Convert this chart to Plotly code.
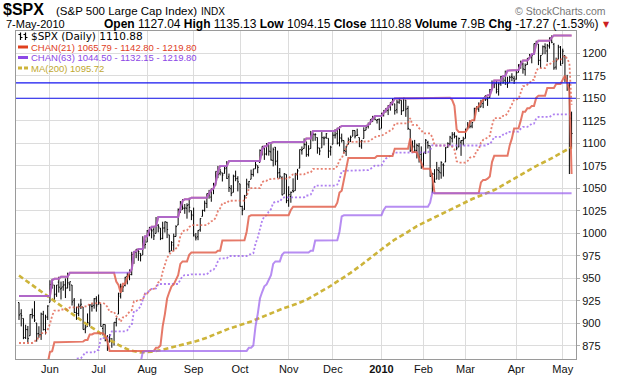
import pandas as pd
import plotly.graph_objects as go

# ---------------- data ----------------
holidays = ["2009-05-25", "2009-07-03", "2009-09-07", "2009-11-26", "2009-12-25",
            "2010-01-01", "2010-01-18", "2010-02-15", "2010-04-02"]
dates = [d for d in pd.bdate_range("2009-05-11", "2010-05-07")
         if d.strftime("%Y-%m-%d") not in holidays]

opens = [
    923.0, 910.5, 905.4, 884.2, 892.8, 886.1, 909.7, 908.6, 900.4, 888.7, 887.0, 910.0, 893.0, 907.0,
    923.3, 942.9, 942.5, 932.5, 945.7, 938.1, 940.4, 942.7, 939.0, 943.4, 942.5, 925.6, 911.9, 910.9, 920.0, 918.1, 893.5, 896.3, 899.5, 918.8, 919.9, 927.2,
    920.8, 921.2, 894.3, 898.6, 881.9, 881.3, 880.0, 879.6, 900.8, 910.2, 930.2, 940.6, 942.1, 952.0, 953.4, 954.1, 972.2, 978.6, 981.5, 977.7, 976.0, 986.8,
    990.2, 1001.4, 1005.4, 1004.1, 999.8, 1008.9, 1005.8, 994.0, 1005.9, 1012.2, 998.2, 980.6, 986.9, 996.4, 1009.1, 1026.6, 1026.6, 1027.4, 1027.8, 1031.6, 1025.2,
    1019.5, 996.1, 996.1, 1003.8, 1018.7, 1025.4, 1033.0, 1043.9, 1040.2, 1049.0, 1054.0, 1067.9, 1066.6, 1067.1, 1066.4, 1072.7, 1062.6, 1049.5, 1045.4, 1063.7, 1061.0,
    1054.9, 1029.7, 1026.9, 1042.0, 1053.7, 1060.0, 1065.3, 1071.6, 1075.0, 1078.7, 1090.4, 1094.7, 1088.2, 1098.6, 1090.4, 1081.0, 1095.6, 1080.4, 1067.5, 1061.5, 1043.7, 1065.4,
    1036.2, 1040.9, 1047.3, 1047.3, 1065.0, 1072.3, 1091.9, 1094.1, 1098.3, 1087.6, 1094.1, 1109.2, 1109.4, 1106.4, 1094.7, 1094.9, 1105.8, 1106.5, 1105.5, 1091.1,
    1098.9, 1109.0, 1110.6, 1100.4, 1105.5, 1103.0, 1091.1, 1098.7, 1104.0, 1107.8, 1114.1, 1108.6, 1106.4, 1097.9, 1105.3, 1114.5, 1118.8, 1121.1, 1127.5, 1128.6, 1125.5, 1126.6,
    1116.6, 1132.7, 1135.7, 1136.3, 1140.5, 1146.0, 1143.8, 1137.3, 1145.7, 1147.7, 1136.0, 1148.0, 1138.7, 1115.5, 1092.4, 1095.8, 1091.9, 1096.9, 1087.6,
    1073.9, 1090.1, 1100.7, 1097.3, 1064.1, 1065.5, 1060.1, 1069.7, 1067.1, 1076.0, 1079.1, 1096.1, 1099.0, 1105.5, 1110.0, 1107.5, 1095.9, 1101.2, 1103.1,
    1105.4, 1117.0, 1119.4, 1119.1, 1125.1, 1138.4, 1137.6, 1140.2, 1144.0, 1151.7, 1148.5, 1150.8, 1159.9, 1166.1, 1166.7, 1157.3, 1166.5, 1172.7, 1170.0, 1167.6, 1167.7, 1173.8, 1171.8,
    1171.2, 1178.7, 1186.0, 1188.2, 1181.8, 1187.5, 1194.9, 1195.9, 1198.7, 1210.8, 1210.2, 1192.1, 1199.0, 1207.2, 1202.5, 1207.9, 1217.1, 1209.9, 1184.6, 1193.3, 1206.8,
    1188.6, 1197.5, 1169.2, 1164.4, 1127.04,
]
highs = [
    923.0, 915.6, 905.4, 898.4, 897.0, 910.0, 916.4, 924.6, 900.4, 896.7, 911.8, 913.8, 909.5, 920.0,
    947.8, 949.4, 942.5, 942.5, 951.7, 946.3, 946.9, 949.8, 956.2, 946.3, 942.5, 928.0, 918.4, 921.9, 927.1, 918.1, 898.7, 910.9, 921.4, 922.0, 928.0, 930.0,
    931.9, 921.2, 898.7, 898.6, 886.8, 887.9, 883.6, 901.1, 905.8, 934.0, 944.0, 941.9, 951.6, 956.5, 959.8, 979.4, 979.8, 982.5, 982.4, 977.8, 996.7, 993.2,
    1003.6, 1007.1, 1006.6, 1008.0, 1018.0, 1010.1, 1005.8, 1012.8, 1013.1, 1012.6, 998.2, 991.2, 999.6, 1008.9, 1027.6, 1035.8, 1037.8, 1032.5, 1033.3, 1039.5, 1025.2,
    1028.5, 1000.3, 1003.4, 1016.5, 1026.1, 1036.3, 1044.1, 1048.2, 1049.7, 1056.0, 1068.8, 1074.8, 1071.5, 1067.3, 1073.8, 1080.2, 1066.3, 1053.5, 1065.1, 1069.6, 1063.4,
    1054.9, 1030.6, 1042.6, 1060.6, 1058.0, 1070.7, 1071.5, 1079.5, 1075.3, 1093.2, 1096.6, 1094.7, 1100.2, 1098.6, 1101.4, 1095.2, 1095.8, 1091.8, 1072.5, 1063.3, 1066.8, 1065.4,
    1052.2, 1046.4, 1061.0, 1066.7, 1071.5, 1093.2, 1096.4, 1105.4, 1102.0, 1097.8, 1113.7, 1110.5, 1111.1, 1106.4, 1094.7, 1112.4, 1107.6, 1111.2, 1105.5, 1097.2,
    1112.3, 1115.6, 1117.3, 1119.1, 1110.7, 1103.0, 1097.0, 1106.3, 1108.5, 1114.8, 1114.1, 1116.2, 1106.4, 1103.7, 1117.7, 1120.3, 1123.0, 1126.5, 1130.4, 1130.4, 1126.4, 1127.6,
    1133.9, 1136.6, 1139.2, 1142.5, 1145.4, 1149.7, 1143.8, 1148.4, 1150.4, 1147.8, 1150.5, 1148.0, 1141.6, 1115.5, 1103.0, 1103.7, 1099.5, 1100.2, 1096.5,
    1089.4, 1104.7, 1102.7, 1097.3, 1067.1, 1071.2, 1079.3, 1073.7, 1080.0, 1077.8, 1095.7, 1101.0, 1108.2, 1112.4, 1112.3, 1108.6, 1106.4, 1103.5, 1107.2,
    1116.1, 1123.5, 1125.6, 1123.7, 1139.4, 1141.1, 1145.4, 1148.3, 1150.2, 1153.4, 1151.0, 1160.3, 1169.8, 1167.8, 1169.2, 1167.8, 1174.7, 1173.0, 1180.7, 1173.9, 1174.9, 1177.8, 1174.6,
    1181.4, 1187.7, 1191.8, 1189.6, 1188.6, 1194.7, 1199.2, 1199.0, 1210.7, 1213.9, 1210.2, 1197.9, 1208.6, 1211.0, 1210.3, 1217.3, 1219.80, 1211.4, 1195.1, 1209.4, 1208.0,
    1205.1, 1197.5, 1176.0, 1167.6, 1135.13,
]
lows = [
    903.7, 896.5, 882.3, 882.5, 878.9, 886.1, 905.2, 901.4, 879.6, 883.8, 881.5, 891.9, 887.6, 903.6,
    923.3, 938.5, 923.9, 929.3, 934.1, 926.4, 936.2, 928.0, 939.0, 935.7, 919.7, 911.6, 903.8, 907.9, 915.8, 893.0, 888.9, 896.3, 896.3, 913.0, 916.2, 912.9,
    920.8, 896.4, 886.4, 879.9, 869.3, 878.5, 872.8, 875.3, 896.5, 910.2, 927.5, 934.7, 941.0, 943.2, 947.8, 953.3, 966.0, 972.3, 969.4, 968.7, 976.0, 982.9,
    990.2, 996.7, 994.3, 992.5, 999.8, 1001.0, 992.4, 993.4, 1000.8, 994.6, 978.5, 980.6, 980.6, 996.4, 1009.1, 1022.5, 1026.2, 1021.6, 1016.2, 1023.1, 1014.6,
    996.3, 992.0, 992.3, 1001.7, 1018.7, 1024.0, 1028.0, 1038.4, 1035.0, 1043.4, 1052.9, 1061.2, 1064.3, 1057.5, 1066.4, 1060.4, 1045.9, 1041.2, 1045.4, 1057.8, 1046.5,
    1029.5, 1020.0, 1025.9, 1042.0, 1050.1, 1060.0, 1063.0, 1071.6, 1066.7, 1078.7, 1086.4, 1081.5, 1086.5, 1086.2, 1080.8, 1074.3, 1075.5, 1061.4, 1060.6, 1042.2, 1043.7, 1033.4,
    1029.4, 1033.9, 1045.2, 1047.3, 1059.3, 1072.3, 1087.4, 1094.1, 1084.9, 1085.3, 1094.1, 1102.2, 1102.7, 1088.4, 1086.8, 1094.9, 1097.6, 1104.8, 1083.7, 1086.3,
    1098.9, 1105.3, 1098.7, 1096.5, 1100.8, 1088.6, 1085.9, 1098.7, 1101.3, 1107.8, 1105.4, 1108.0, 1095.9, 1093.9, 1105.3, 1114.5, 1116.4, 1121.1, 1123.5, 1126.1, 1121.9, 1114.8,
    1116.6, 1129.7, 1134.0, 1131.3, 1136.2, 1142.0, 1131.8, 1133.2, 1143.8, 1131.4, 1135.8, 1129.3, 1114.8, 1090.2, 1092.4, 1089.9, 1083.1, 1078.5, 1071.6,
    1073.9, 1088.0, 1094.0, 1062.8, 1044.50, 1056.5, 1060.1, 1059.3, 1060.6, 1063.0, 1079.1, 1094.7, 1097.5, 1100.8, 1105.4, 1092.2, 1095.5, 1086.0, 1097.6,
    1105.4, 1116.5, 1116.6, 1116.7, 1125.1, 1136.8, 1134.9, 1140.1, 1139.0, 1147.0, 1141.5, 1150.4, 1159.9, 1161.2, 1155.3, 1152.9, 1163.8, 1166.0, 1165.1, 1161.5, 1167.7, 1168.9, 1165.8,
    1170.7, 1178.7, 1182.8, 1177.3, 1175.1, 1187.2, 1194.7, 1188.8, 1198.7, 1208.5, 1186.8, 1183.7, 1199.0, 1198.9, 1190.2, 1205.1, 1211.1, 1181.6, 1181.8, 1193.3, 1186.3,
    1188.6, 1168.1, 1158.2, 1065.79, 1094.15,
]
closes = [
    909.2, 908.4, 883.9, 893.1, 882.9, 909.7, 908.1, 903.5, 888.3, 887.0, 910.3, 893.1, 906.8, 919.1,
    942.9, 944.7, 931.8, 942.5, 940.1, 939.1, 942.4, 939.2, 944.9, 946.2, 923.7, 912.0, 910.7, 918.4, 921.2, 893.0, 895.1, 900.9, 920.3, 918.9, 927.2, 919.3,
    923.3, 896.4, 898.7, 881.0, 879.6, 882.7, 879.1, 901.1, 905.8, 932.7, 940.7, 940.4, 951.1, 954.6, 954.1, 976.3, 979.3, 982.2, 979.6, 975.2, 986.8, 987.5,
    1002.6, 1005.7, 1002.7, 997.1, 1010.5, 1007.1, 994.4, 1005.8, 1012.7, 1004.1, 979.7, 989.7, 996.5, 1007.4, 1026.1, 1025.6, 1028.0, 1028.1, 1031.0, 1028.9, 1020.6,
    998.0, 994.8, 1003.2, 1016.4, 1025.4, 1033.4, 1044.1, 1042.7, 1049.3, 1052.6, 1068.8, 1065.5, 1068.3, 1064.7, 1071.7, 1060.9, 1050.8, 1044.4, 1063.0, 1060.6, 1057.1,
    1029.9, 1025.2, 1040.5, 1054.7, 1057.6, 1065.5, 1071.5, 1076.2, 1073.2, 1092.0, 1096.6, 1087.7, 1097.9, 1091.1, 1081.4, 1092.9, 1079.6, 1067.0, 1063.4, 1042.6, 1066.1, 1036.2,
    1042.9, 1045.4, 1046.5, 1066.6, 1069.3, 1093.1, 1093.0, 1098.5, 1087.2, 1093.5, 1109.3, 1110.3, 1109.8, 1094.9, 1091.4, 1106.2, 1105.7, 1110.6, 1091.5, 1095.6,
    1108.9, 1109.2, 1099.9, 1106.0, 1103.3, 1091.9, 1096.0, 1102.4, 1106.4, 1114.1, 1107.9, 1109.2, 1096.1, 1102.5, 1114.1, 1118.0, 1120.6, 1126.5, 1127.8, 1126.2, 1126.4, 1115.1,
    1133.0, 1136.5, 1137.1, 1141.7, 1145.0, 1147.0, 1136.2, 1145.7, 1148.5, 1136.0, 1150.2, 1138.0, 1116.5, 1091.8, 1096.8, 1092.2, 1097.5, 1084.5, 1073.9,
    1089.2, 1103.3, 1097.3, 1063.1, 1066.2, 1056.7, 1070.5, 1068.1, 1078.5, 1075.5, 1094.9, 1099.5, 1106.8, 1109.2, 1108.0, 1094.6, 1105.2, 1102.9, 1104.5,
    1115.7, 1118.3, 1118.8, 1123.0, 1138.7, 1138.5, 1140.5, 1145.6, 1150.2, 1150.0, 1150.5, 1159.5, 1166.2, 1165.8, 1159.9, 1165.8, 1174.2, 1167.7, 1165.7, 1166.6, 1173.2, 1173.3, 1169.4,
    1178.1, 1187.4, 1189.4, 1182.5, 1186.4, 1194.4, 1196.5, 1197.3, 1210.7, 1211.7, 1192.1, 1197.5, 1207.2, 1205.9, 1208.7, 1217.3, 1212.1, 1183.7, 1191.4, 1206.8, 1186.7,
    1202.3, 1173.6, 1165.9, 1128.2, 1110.88,
]

# highs / lows of the 63 sessions before the first bar (for the channel look-back)
pre_high = [877, 868, 838, 835, 839, 808, 797, 797, 778, 777, 775, 780, 779, 751,
            729, 709, 724, 708, 691, 689, 720, 731, 752, 758, 774, 778, 803, 797, 788, 823, 823, 826, 832, 828, 809, 810,
            813, 845, 843, 842, 835, 828, 856, 864, 856, 853, 870, 875, 869, 852, 861, 852, 871, 868, 864, 882, 889,
            880, 907, 907, 920, 929, 930.2]
pre_low = [862, 822, 823, 808, 825, 787, 780, 777, 754, 742, 743, 752, 751, 734,
           699, 693, 698, 677, 667, 672, 679, 713, 714, 741, 753, 749, 765, 781, 766, 772, 805, 791, 814, 814, 779, 790,
           784, 814, 826, 821, 811, 814, 829, 845, 840, 831, 847, 861, 826, 828, 842, 836, 853, 855, 848, 856, 868,
           869, 879, 897, 903, 902, 909]

# 200-day moving average (bar index, value)
ma_idx = [0, 5, 10, 15, 20, 25, 30, 35, 40, 45, 50, 55, 60, 65, 70, 75, 80, 85, 90, 95,
          100, 105, 110, 115, 120, 125, 130, 135, 140, 145, 150, 155, 160, 165, 170, 175,
          180, 185, 190, 195, 200, 205, 210, 215, 220, 225, 230, 235, 240, 245, 250]
ma_val = [953, 944, 936, 927, 918, 909, 900, 892, 883, 876, 870, 867.5, 868.5, 870.5, 873.5, 877, 880, 884, 889, 894,
          898, 902, 907, 912, 917, 921, 926, 933, 940, 948, 956, 965, 975, 984, 993, 1000,
          1008, 1014, 1020, 1026, 1032, 1038, 1043, 1048, 1055, 1062, 1069, 1076, 1082, 1089, 1095.72]

hlines = [1150, 1167]
y_ticks = list(range(875, 1201, 25))

# ---------------- derived (price channels over the preceding N sessions) ----------------
n = len(closes)
x = list(range(n))
npre = len(pre_high)
hs = pd.Series(pre_high + highs, dtype=float)
ls = pd.Series(pre_low + lows, dtype=float)
c21u = hs.rolling(21, min_periods=1).max().shift(1).iloc[npre:].tolist()
c21l = ls.rolling(21, min_periods=1).min().shift(1).iloc[npre:].tolist()
c63u = hs.rolling(63, min_periods=1).max().shift(1).iloc[npre:].tolist()
c63l = ls.rolling(63, min_periods=1).min().shift(1).iloc[npre:].tolist()
c21m = [(a + b) / 2 for a, b in zip(c21u, c21l)]
c63m = [(a + b) / 2 for a, b in zip(c63u, c63l)]

month_pos, month_txt = [], []
for i, d in enumerate(dates):
    if i > 0 and d.month != dates[i - 1].month:
        month_pos.append(i)
        month_txt.append("<b>%d</b>" % d.year if d.month == 1 else d.strftime("%b"))

# ---------------- layout geometry ----------------
W, H = 620, 376
L, R, T, B = 16, 576, 31, 359
XR = [-1.36, 252.0]
YR = [860.3, 1224.7]


def px(xp):
    return (xp - L) / (R - L)


def py(yp):
    return (B - yp) / (B - T)


RED = "#e2624e"
PURP = "#9c62ee"
GOLD = "#cdb43a"

fig = go.Figure()
fig.add_trace(go.Ohlc(x=x, open=opens, high=highs, low=lows, close=closes,
                      increasing=dict(line=dict(color="black", width=1)),
                      decreasing=dict(line=dict(color="black", width=1)),
                      tickwidth=0.45, hoverinfo="skip"))
fig.add_trace(go.Scatter(x=ma_idx, y=ma_val, mode="lines",
                         line=dict(color=GOLD, width=2.6, dash="5px,3px")))
fig.add_trace(go.Scatter(x=x, y=c21m, mode="lines", opacity=0.8,
                         line=dict(color=RED, width=1.8, dash="2px,2px")))
fig.add_trace(go.Scatter(x=x, y=c63m, mode="lines", opacity=0.8,
                         line=dict(color=PURP, width=1.8, dash="2px,2px")))
for ys in (c21u, c21l):
    fig.add_trace(go.Scatter(x=x, y=ys, mode="lines", opacity=0.85,
                             line=dict(color=RED, width=2)))
for ys in (c63u, c63l):
    fig.add_trace(go.Scatter(x=x, y=ys, mode="lines", opacity=0.72,
                             line=dict(color=PURP, width=2)))

shapes = []
for v in hlines:
    shapes.append(dict(type="line", xref="paper", yref="y", x0=0, x1=1, y0=v, y1=v,
                       line=dict(color="#1414f0", width=1.2)))

# legend markers
shapes.append(dict(type="line", xref="paper", yref="paper", x0=px(18), x1=px(28), y0=py(47), y1=py(47),
                   line=dict(color="#e0401e", width=3)))
shapes.append(dict(type="line", xref="paper", yref="paper", x0=px(18), x1=px(28), y0=py(57.5), y1=py(57.5),
                   line=dict(color="#8c48e6", width=3)))
shapes.append(dict(type="line", xref="paper", yref="paper", x0=px(18), x1=px(28), y0=py(68), y1=py(68),
                   line=dict(color=GOLD, width=3, dash="4px,2px")))
for bx in (20.5, 25.5):
    shapes.append(dict(type="line", xref="paper", yref="paper", x0=px(bx), x1=px(bx), y0=py(32.5), y1=py(40),
                       line=dict(color="black", width=1.2)))
    shapes.append(dict(type="line", xref="paper", yref="paper", x0=px(bx - 2), x1=px(bx), y0=py(34.5), y1=py(34.5),
                       line=dict(color="black", width=1)))
    shapes.append(dict(type="line", xref="paper", yref="paper", x0=px(bx), x1=px(bx + 2), y0=py(37.5), y1=py(37.5),
                       line=dict(color="black", width=1)))

ann = []


def add_text(xp, yp, text, size, color="#000", anchor="left", family="Liberation Sans, Arial, sans-serif"):
    ann.append(dict(x=px(xp), y=py(yp), xref="paper", yref="paper", text=text, showarrow=False,
                    xanchor=anchor, yanchor="middle", borderpad=0,
                    font=dict(size=size, color=color, family=family)))


last = n - 1
add_text(2, 9.5, "<b>$SPX</b>", 16)
add_text(55, 11, "(S&P 500 Large Cap Index)", 11.5)
add_text(200, 11.5, "INDX", 10)
add_text(607, 10.5, "© StockCharts.com", 10.5, "#777777", "right")
add_text(5, 24, dates[last].strftime("%-d-%b-%Y"), 11)
add_text(600, 24,
         "<b>Open</b> %.2f <b>High</b> %.2f <b>Low</b> %.2f <b>Close</b> %.2f <b>Volume</b> 7.9B <b>Chg</b> -17.27 (-1.53%%)"
         % (opens[last], highs[last], lows[last], closes[last]), 12, "#000", "right")
add_text(611, 24, "▼", 8, "#cc2020", "right", "DejaVu Sans")

add_text(30, 36.5, "$SPX (Daily) %.2f" % closes[last], 10.5, "#000", "left", "DejaVu Sans")
add_text(30, 47, "CHAN(21) 1065.79 - 1142.80 - 1219.80", 9.5, "#e0401e")
add_text(30, 57.5, "CHAN(63) 1044.50 - 1132.15 - 1219.80", 9.5, "#8c48e6")
add_text(30, 68, "MA(200) 1095.72", 9.5, "#c0a830")

fig.update_layout(
    width=W, height=H, autosize=False,
    margin=dict(l=L, r=W - R, t=T, b=H - B, pad=0, autoexpand=False),
    paper_bgcolor="white", plot_bgcolor="white",
    showlegend=False, hovermode=False,
    shapes=shapes, annotations=ann,
    font=dict(family="Liberation Sans, Arial, sans-serif", size=11, color="#000"),
)
fig.update_xaxes(range=XR, rangeslider=dict(visible=False), tickmode="array", automargin=False,
                 tickvals=month_pos, ticktext=month_txt, showgrid=True, gridcolor="#dcdcdc",
                 gridwidth=1, zeroline=False, showline=True, mirror=True, linecolor="#9a9a9a",
                 linewidth=1, ticks="", tickfont=dict(size=11, color="#111"))
fig.update_yaxes(range=YR, side="right", tickmode="array", tickvals=y_ticks, automargin=False,
                 showgrid=True, gridcolor="#dcdcdc", gridwidth=1, zeroline=False,
                 showline=True, mirror=True, linecolor="#9a9a9a", linewidth=1,
                 ticks="outside", ticklen=3, tickcolor="#b0b0b0", tickfont=dict(size=11, color="#111"))

fig.write_html("out.html", config={"displayModeBar": False},
               post_script="document.body.style.margin='0';")
